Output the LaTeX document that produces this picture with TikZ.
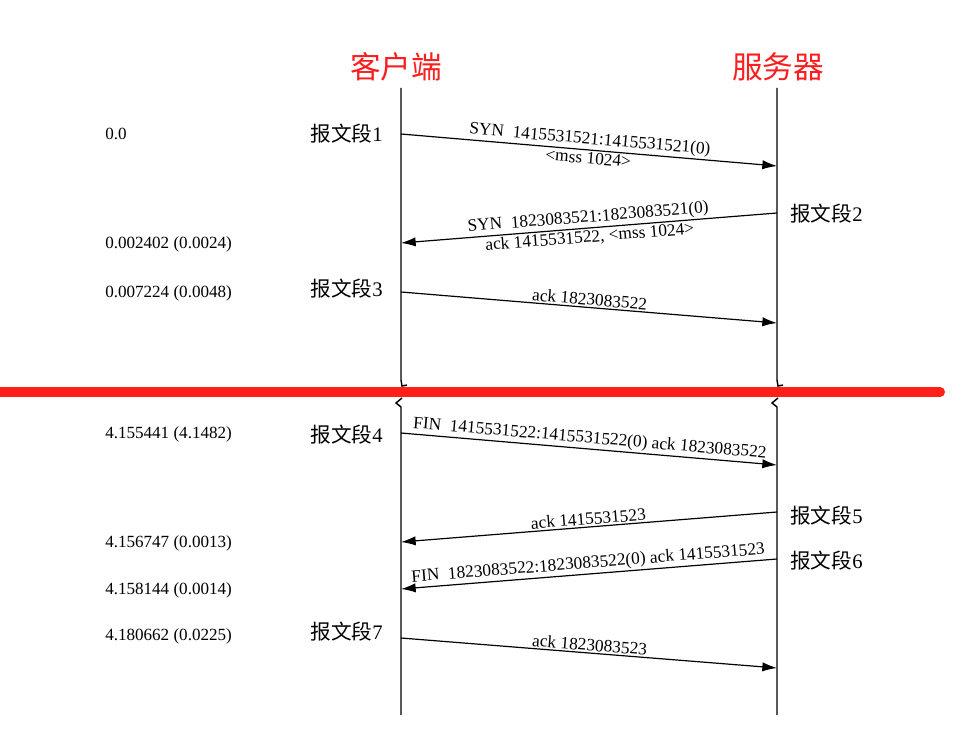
\documentclass[tikz,border=0pt]{standalone}
\usepackage{fontspec}
\setmainfont{Liberation Serif}
\newfontfamily\cjk{Noto Sans CJK SC}
\usetikzlibrary{arrows.meta,positioning}
\definecolor{host red}{RGB}{250,30,30}
\definecolor{cut red}{RGB}{255,32,24}
\newcommand\seg[1]{{\cjk 报文段}#1}
\tikzset{lifeline/.style={line width=1.1pt},
    msg/.style={line width=0.9pt, -{Latex[length=11pt,width=7pt]}},
    backmsg/.style={line width=0.9pt, {Latex[length=11pt,width=7pt]}-},
    msglabel/.style={sloped, inner sep=1.2pt, font=\fontsize{13}{15}\selectfont},
    stamp/.style={anchor=west, inner sep=0pt, font=\fontsize{12.8}{14}\selectfont},
    seglabel/.style={inner sep=0pt, font=\fontsize{15.5}{18}\selectfont},
    host/.style={text=host red, font=\cjk\fontsize{23}{26}\selectfont}}

\begin{document}
\begin{tikzpicture}[x=0.75pt, y=-0.75pt]
    \useasboundingbox (0,0) rectangle (953,731);
    % hosts
    \node[host] (client) at (396,67) {客户端};
    \node[host] (server) at (778,67) {服务器};
    % lifelines, broken at the red bar
    \coordinate (ctop) at (401,88);  \coordinate (cbot) at (401,715);
    \coordinate (stop) at (777,88);  \coordinate (sbot) at (777,715);
    \coordinate (ccut1) at (401,380); \coordinate (ccut2) at (401,407);
    \coordinate (scut1) at (777,380); \coordinate (scut2) at (777,407);
    \draw[lifeline] (ctop) -- (ccut1) -- ++(1,6) -- ++(5,-1);
    \draw[lifeline] (cbot) -- (ccut2) -- ++(-5,-4) -- ++(6,-5);
    \draw[lifeline] (stop) -- (scut1) -- ++(1,6) -- ++(5,-1);
    \draw[lifeline] (sbot) -- (scut2) -- ++(-5,-4) -- ++(6,-5);
    \draw[cut red, line width=7.5pt, line cap=round] (-10,392) -- (940,392);
    % message ends
    \coordinate (c1) at (401,134); \coordinate (s1) at (777,166);
    \coordinate (s2) at (777,213); \coordinate (c2) at (401,243);
    \coordinate (c3) at (401,292); \coordinate (s3) at (777,323);
    \coordinate (c4) at (401,433); \coordinate (s4) at (777,465);
    \coordinate (s5) at (777,512); \coordinate (c5) at (401,542);
    \coordinate (s6) at (777,559); \coordinate (c6) at (401,589);
    \coordinate (c7) at (401,638); \coordinate (s7) at (777,668);
    % messages
    \draw[msg] (c1) -- (s1)
        node[msglabel, midway, above] {SYN\ \ 1415531521:1415531521(0)}
        node[msglabel, midway, below] {<mss 1024>};
    \draw[backmsg] (c2) -- (s2)
        node[msglabel, midway, above] {SYN\ \ 1823083521:1823083521(0)}
        node[msglabel, midway, below] {ack 1415531522, <mss 1024>};
    \draw[msg] (c3) -- (s3)
        node[msglabel, midway, above] {ack 1823083522};
    \draw[msg] (c4) -- (s4)
        node[msglabel, midway, above] {FIN\ \ 1415531522:1415531522(0) ack 1823083522};
    \draw[backmsg] (c5) -- (s5)
        node[msglabel, midway, above] {ack 1415531523};
    \draw[backmsg] (c6) -- (s6)
        node[msglabel, midway, above] {FIN\ \ 1823083522:1823083522(0) ack 1415531523};
    \draw[msg] (c7) -- (s7)
        node[msglabel, midway, above] {ack 1823083523};
    % segment names
    \node[seglabel, anchor=east] (seg1) at (383,134) {\seg1};
    \node[seglabel, anchor=west] (seg2) at (790,214) {\seg2};
    \node[seglabel, anchor=east] (seg3) at (383,289) {\seg3};
    \node[seglabel, anchor=east] (seg4) at (383,435) {\seg4};
    \node[seglabel, anchor=west] (seg5) at (790,516) {\seg5};
    \node[seglabel, anchor=west] (seg6) at (790,561) {\seg6};
    \node[seglabel, anchor=east] (seg7) at (383,632) {\seg7};
    % time stamps
    \node[stamp] (t1) at (105,134) {0.0};
    \node[stamp] (t2) at (105,244) {0.002402 (0.0024)};
    \node[stamp] (t3) at (105,293) {0.007224 (0.0048)};
    \node[stamp] (t4) at (105,434) {4.155441 (4.1482)};
    \node[stamp] (t5) at (105,543) {4.156747 (0.0013)};
    \node[stamp] (t6) at (105,590) {4.158144 (0.0014)};
    \node[stamp] (t7) at (105,636) {4.180662 (0.0225)};
\end{tikzpicture}
\end{document}
